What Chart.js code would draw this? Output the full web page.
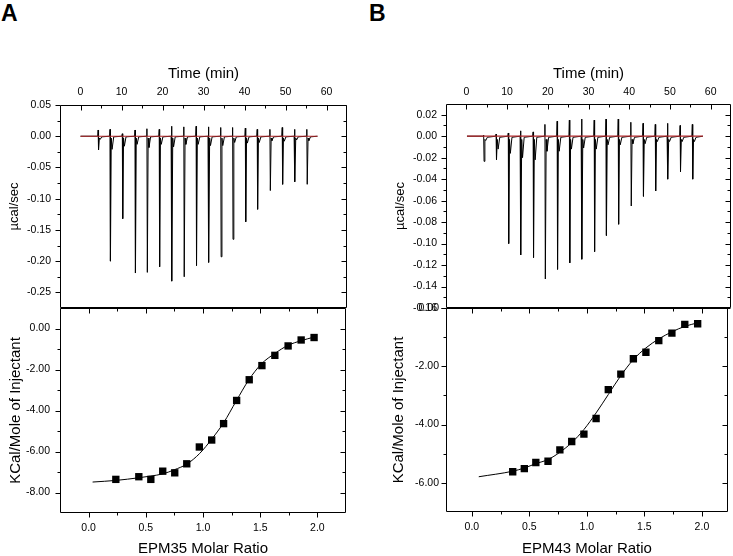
<!DOCTYPE html>
<html><head><meta charset="utf-8">
<script src="https://cdn.jsdelivr.net/npm/chart.js@4/dist/chart.umd.min.js"></script>
<style>
html,body{margin:0;padding:0;background:#fff;width:733px;height:556px;overflow:hidden}
canvas{position:absolute;left:0;top:0}
.lbl{position:absolute;font-family:'Liberation Sans',Arial,sans-serif;font-weight:bold;font-size:23px;line-height:23px;color:#000}
</style></head><body>
<div class="lbl" style="left:1px;top:2px">A</div>
<div class="lbl" style="left:369px;top:2px">B</div>
<canvas id="aTop" width="733" height="556"></canvas>
<canvas id="aBot" width="733" height="556"></canvas>
<canvas id="bTop" width="733" height="556"></canvas>
<canvas id="bBot" width="733" height="556"></canvas>
<script>
// ---------- tick labels ----------
const timeMajor = [0,10,20,30,40,50,60];
const timeMinor = [5,15,25,35,45,55];
const ratioMajor = [0,0.5,1,1.5,2];
const ratioMinor = [0.25,0.75,1.25,1.75];
const aRawMajor = [0.05,0,-0.05,-0.1,-0.15,-0.2,-0.25];
const aRawMinor = [0.025,-0.025,-0.075,-0.125,-0.175,-0.225];
const bRawMajor = [0.02,0,-0.02,-0.04,-0.06,-0.08,-0.1,-0.12,-0.14,-0.16];
const bRawMinor = [0.01,-0.01,-0.03,-0.05,-0.07,-0.09,-0.11,-0.13,-0.15];
const aHeatMajor = [0,-2,-4,-6,-8];
const aHeatMinor = [-1,-3,-5,-7];
const bHeatMajor = [0,-2,-4,-6];
const bHeatMinor = [-1,-3,-5];

// ---------- Panel A raw thermogram (injections) ----------
const aInjTime  = [4.3,7.2,10.2,13.3,16.2,19.2,22.2,25.2,28.2,31.2,34.2,37.1,40.2,43.1,46.2,49.2,52.2,55.2];
const aSpikeMin = [-0.022,-0.200,-0.132,-0.219,-0.218,-0.209,-0.232,-0.225,-0.207,-0.202,-0.193,-0.165,-0.137,-0.117,-0.087,-0.077,-0.073,-0.077];
const aSpikeMax = [0.010,0.011,0.004,0.010,0.012,0.011,0.016,0.015,0.016,0.015,0.014,0.014,0.013,0.011,0.011,0.014,0.011,0.011];
const aShoulder = [-0.005,-0.021,-0.016,-0.013,-0.018,-0.013,-0.017,-0.013,-0.013,-0.015,-0.015,-0.010,-0.011,-0.010,-0.007,-0.008,-0.006,-0.007];
const aRun = [0, 57.8];

// ---------- Panel B raw thermogram ----------
const bInjTime  = [4.25,7.3,10.3,13.3,16.4,19.3,22.3,25.3,28.3,31.4,34.3,37.3,40.4,43.4,46.4,49.4,52.5,55.5];
const bSpikeMin = [-0.0234,-0.0218,-0.100,-0.1106,-0.113,-0.133,-0.124,-0.118,-0.1146,-0.1075,-0.0925,-0.082,-0.065,-0.056,-0.051,-0.040,-0.033,-0.040];
const bSpikeMax = [0.001,0.002,0.003,0.005,0.004,0.011,0.014,0.015,0.016,0.015,0.016,0.016,0.013,0.012,0.011,0.012,0.010,0.011];
const bShoulder = [-0.004,-0.012,-0.016,-0.020,-0.022,-0.014,-0.014,-0.012,-0.011,-0.012,-0.008,-0.008,-0.007,-0.007,-0.005,-0.005,-0.005,-0.005];
const bRun = [0.15, 58.1];

// ---------- Panel A integrated heats ----------
const aRatio = [0.238,0.439,0.544,0.648,0.753,0.858,0.968,1.076,1.180,1.294,1.404,1.515,1.628,1.744,1.858,1.971];
const aHeat  = [-7.36,-7.23,-7.36,-6.96,-7.04,-6.60,-5.78,-5.44,-4.64,-3.51,-2.50,-1.81,-1.31,-0.85,-0.56,-0.44];
const aFitRatio = [0.035,0.24,0.44,0.54,0.65,0.75,0.86,0.97,1.08,1.18,1.29,1.40,1.51,1.63,1.74,1.86,1.97];
const aFitHeat  = [-7.49,-7.41,-7.28,-7.20,-7.09,-6.89,-6.61,-6.10,-5.37,-4.60,-3.54,-2.51,-1.73,-1.21,-0.83,-0.59,-0.42];

// ---------- Panel B integrated heats ----------
const bRatio = [0.355,0.456,0.556,0.662,0.765,0.868,0.974,1.080,1.186,1.295,1.404,1.513,1.625,1.739,1.851,1.963];
const bHeat  = [-5.62,-5.51,-5.30,-5.26,-4.87,-4.58,-4.33,-3.79,-2.80,-2.27,-1.74,-1.52,-1.12,-0.86,-0.56,-0.54];
const bFitRatio = [0.06,0.355,0.456,0.556,0.662,0.765,0.868,0.974,1.08,1.186,1.295,1.404,1.513,1.625,1.739,1.851,1.963];
const bFitHeat  = [-5.79,-5.60,-5.49,-5.34,-5.20,-4.95,-4.62,-4.17,-3.60,-2.97,-2.32,-1.77,-1.37,-1.06,-0.82,-0.63,-0.51];

// ---------- helpers ----------
const FONT = "'Liberation Sans', Arial, Helvetica, sans-serif";
Chart.defaults.font.family = FONT;
Chart.defaults.color = '#000';
const tickFont = {family: FONT, size: 10.5, lineHeight: 1};
const bigTitle = {family: FONT, size: 15, lineHeight: 1};
const smallTitle = {family: FONT, size: 13, lineHeight: 1};

function buildTrace(times, mins, maxs, shoulders, run) {
  const pts = [{x: run[0], y: 0}];
  times.forEach((t, i) => {
    pts.push({x: t - 0.1, y: 0});
    pts.push({x: t, y: maxs[i]});
    pts.push({x: t + 0.1, y: mins[i]});
    pts.push({x: t + 0.3, y: -0.003});
    pts.push({x: t + 0.5, y: shoulders[i]});
    pts.push({x: t + 0.9, y: -0.001});
  });
  pts.push({x: run[1], y: 0});
  return pts;
}
const zip = (xs, ys) => xs.map((x, i) => ({x, y: ys[i]}));
const fixTicks = vals => (s => { s.ticks = vals.map(v => ({value: v})); });

const framePlugin = {
  id: 'frame',
  afterDatasetsDraw(chart, args, o) {
    const {ctx, chartArea: a} = chart;
    const xs = chart.scales.x, ys = chart.scales.y;
    const L = Math.round(a.left) + 0.5, R = Math.round(a.right) - 0.5;
    const T = Math.round(a.top) + 0.5, B = Math.round(a.bottom) - 0.5;
    ctx.save();
    ctx.strokeStyle = '#000';
    ctx.lineWidth = 1;
    ctx.beginPath();
    const line = (x1, y1, x2, y2) => { ctx.moveTo(x1, y1); ctx.lineTo(x2, y2); };
    const hx = v => Math.round(xs.getPixelForValue(v)) + 0.5;
    const vy = v => Math.round(ys.getPixelForValue(v)) + 0.5;
    const edge = (spec, isH, pos) => {
      if (!spec) return;
      const [maj, min, dir] = spec;
      [[maj, 5], [min, 3]].forEach(([vals, len]) => vals.forEach(v => {
        if (isH) { const p = hx(v); line(p, pos, p, pos + dir * len); }
        else { const p = vy(v); line(pos, p, pos + dir * len, p); }
      }));
    };
    edge(o.top, true, T);
    edge(o.bottom, true, B);
    edge(o.left, false, L);
    edge(o.right, false, R);
    ctx.stroke();
    ctx.beginPath();
    ctx.rect(L, T, R - L, B - T);
    ctx.stroke();
    ctx.restore();
  }
};

function make(id, {pad, x, y, datasets, frame}) {
  return new Chart(document.getElementById(id), {
    type: 'scatter',
    data: {datasets},
    options: {
      responsive: false, animation: false, events: [], devicePixelRatio: 1,
      layout: {padding: pad},
      plugins: {legend: {display: false}, tooltip: {enabled: false}, frame},
      scales: {
        x: {
          type: 'linear', position: x.pos, min: x.min, max: x.max,
          afterBuildTicks: fixTicks(x.ticks), afterFit: s => { s.height = x.size; },
          grid: {display: false, drawTicks: false}, border: {display: false},
          ticks: {padding: x.tpad, font: tickFont, color: '#000', autoSkip: false, maxRotation: 0, minRotation: 0, callback: x.fmt},
          title: {display: true, text: x.title, font: bigTitle, color: '#000', padding: x.titlePad}
        },
        y: {
          type: 'linear', position: 'left', min: y.min, max: y.max,
          afterBuildTicks: fixTicks(y.ticks), afterFit: s => { s.width = y.size; },
          grid: {display: false, drawTicks: false}, border: {display: false},
          ticks: {padding: y.tpad, font: tickFont, color: '#000', autoSkip: false, callback: y.fmt},
          title: {display: true, text: y.title, font: y.tfont, color: '#000', padding: y.titlePad}
        }
      }
    },
    plugins: [framePlugin]
  });
}

const fmt0 = v => String(v);
const fmt1 = v => Number(v).toFixed(1);
const fmt2 = v => Number(v).toFixed(2);
const RED = '#b0272a';

const traceDs = pts => ({data: pts, showLine: true, borderColor: '#000', borderWidth: 1, pointRadius: 0, order: 2});
const baseDs = run => ({data: [{x: run[0], y: 0}, {x: run[1], y: 0}], showLine: true, borderColor: RED, borderWidth: 1.2, pointRadius: 0, order: 1});
const fitDs = (xs, ys) => ({data: zip(xs, ys), showLine: true, borderColor: '#000', borderWidth: 1, pointRadius: 0, tension: 0.4, cubicInterpolationMode: 'monotone', order: 2});
const ptDs = (xs, ys) => ({data: zip(xs, ys), showLine: false, pointStyle: 'rect', pointRadius: 5.2, backgroundColor: '#000', borderWidth: 0, order: 1});

// ---- A top ----
make('aTop', {
  pad: {left: 0, top: 0, right: 386, bottom: 248},
  x: {pos: 'top', min: -5, max: 65, ticks: timeMajor, size: 105, tpad: 8, fmt: fmt0, title: 'Time (min)', titlePad: {top: 66.5, bottom: 0}},
  y: {min: -0.275, max: 0.05, ticks: aRawMajor, size: 60, tpad: 9, fmt: fmt2, title: '\u00b5cal/sec', tfont: smallTitle, titlePad: {top: 8, bottom: 0}},
  datasets: [baseDs(aRun), traceDs(buildTrace(aInjTime, aSpikeMin, aSpikeMax, aShoulder, aRun))],
  frame: {top: [timeMajor, timeMinor, 1], left: [aRawMajor, aRawMinor, -1], right: [aRawMajor, aRawMinor, -1]}
});
// ---- A bottom ----
make('aBot', {
  pad: {left: 0, top: 308, right: 387, bottom: 0},
  x: {pos: 'bottom', min: -0.25, max: 2.25, ticks: ratioMajor, size: 43, tpad: 10, fmt: fmt1, title: 'EPM35 Molar Ratio', titlePad: {top: 0, bottom: 0}},
  y: {min: -9, max: 1, ticks: aHeatMajor, size: 60, tpad: 10, fmt: fmt2, title: 'KCal/Mole of Injectant', tfont: bigTitle, titlePad: {top: 8, bottom: 0}},
  datasets: [ptDs(aRatio, aHeat), fitDs(aFitRatio, aFitHeat)],
  frame: {top: [ratioMajor, ratioMinor, 1], bottom: [ratioMajor, ratioMinor, 1], left: [aHeatMajor, aHeatMinor, -1], right: [aHeatMajor, aHeatMinor, -1]}
});
// ---- B top ----
make('bTop', {
  pad: {left: 380, top: 0, right: 2, bottom: 248},
  x: {pos: 'top', min: -5, max: 65, ticks: timeMajor, size: 104, tpad: 7, fmt: fmt0, title: 'Time (min)', titlePad: {top: 66.5, bottom: 0}},
  y: {min: -0.16, max: 0.03, ticks: bRawMajor, size: 66, tpad: 9, fmt: fmt2, title: '\u00b5cal/sec', tfont: smallTitle, titlePad: {top: 13.5, bottom: 0}},
  datasets: [baseDs(bRun), traceDs(buildTrace(bInjTime, bSpikeMin, bSpikeMax, bShoulder, bRun))],
  frame: {top: [timeMajor, timeMinor, 1], left: [bRawMajor, bRawMinor, -1], right: [bRawMajor, bRawMinor, -1]}
});
// ---- B bottom ----
make('bBot', {
  pad: {left: 380, top: 308, right: 2, bottom: 0},
  x: {pos: 'bottom', min: -0.225, max: 2.225, ticks: ratioMajor, size: 44, tpad: 10, fmt: fmt1, title: 'EPM43 Molar Ratio', titlePad: {top: 0, bottom: 0}},
  y: {min: -7, max: 0, ticks: bHeatMajor, size: 66, tpad: 7, fmt: fmt2, title: 'KCal/Mole of Injectant', tfont: bigTitle, titlePad: {top: 11.5, bottom: 0}},
  datasets: [ptDs(bRatio, bHeat), fitDs(bFitRatio, bFitHeat)],
  frame: {top: [ratioMajor, ratioMinor, 1], bottom: [ratioMajor, ratioMinor, 1], left: [bHeatMajor, bHeatMinor, -1], right: [bHeatMajor, bHeatMinor, -1]}
});
</script>
</body></html>
